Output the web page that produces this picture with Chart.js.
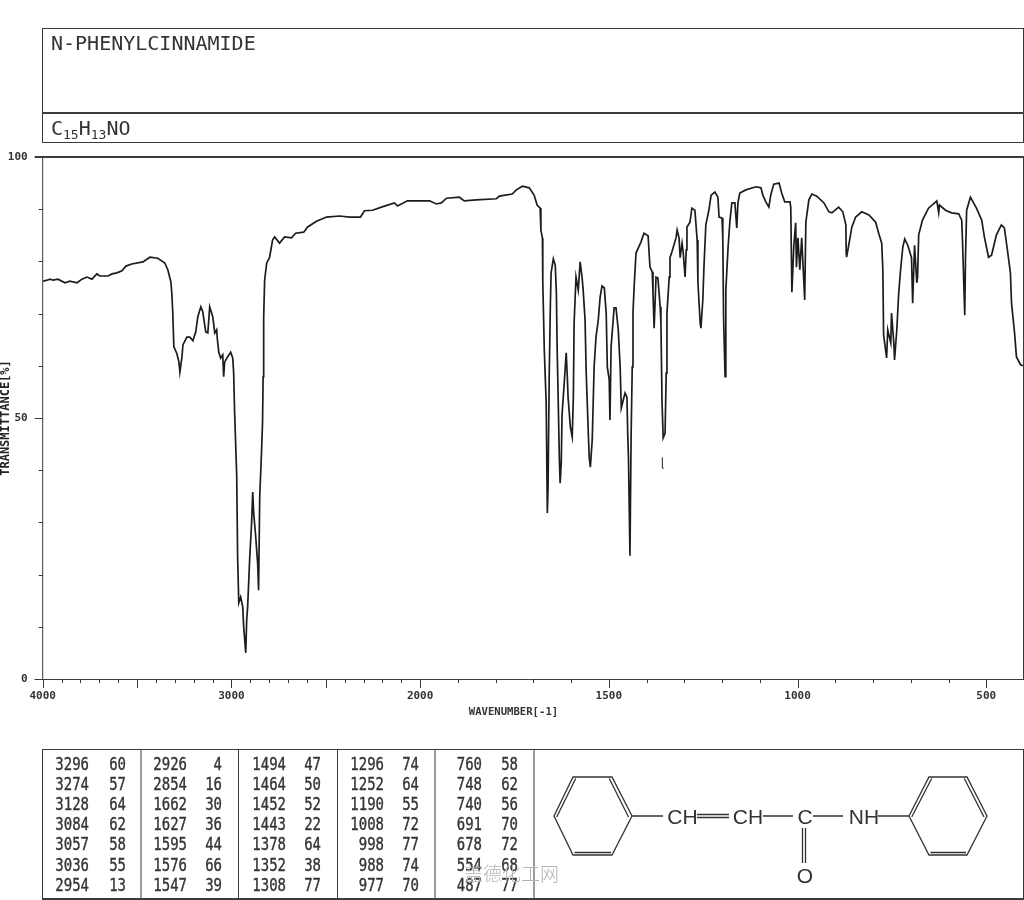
<!DOCTYPE html>
<html>
<head>
<meta charset="utf-8">
<title>N-PHENYLCINNAMIDE</title>
<script src="https://cdn.jsdelivr.net/npm/chart.js@4/dist/chart.umd.min.js"></script>
<style>
  html, body { margin: 0; padding: 0; background: #fff; overflow: hidden; }
  #spectrum, #overlay { position: absolute; left: 0; top: 0; }
  #overlay text { font-family: "DejaVu Sans Mono", monospace; fill: #333; }
  #overlay .cell { stroke: #333; stroke-width: 0.3; }
  #overlay .struct { font-family: "Liberation Sans", sans-serif; font-size: 21px; }
  #overlay .mark { font-family: "Noto Sans CJK SC", sans-serif; font-size: 19px; font-weight: 300; fill: #b4b4b4; }
</style>
</head>
<body>
<canvas id="spectrum" width="1024" height="900"></canvas>
<svg id="overlay" width="1024" height="900" xmlns="http://www.w3.org/2000/svg"></svg>
<script>
const compoundName = 'N-PHENYLCINNAMIDE';
const xAxisTitle = 'WAVENUMBER[-1]';
const yAxisTitle = 'TRANSMITTANCE[%]';
const xTickLabels = [4000, 3000, 2000, 1500, 1000, 500];
const yTickLabels = [100, 50, 0];

const wavenumbers = [
  3998, 3977, 3961, 3945, 3919, 3882, 3856, 3818, 3792, 3766, 3739, 3713, 3697, 3654, 3633, 3607,
  3580, 3559, 3528, 3469, 3432, 3390, 3353, 3337, 3321, 3316, 3311, 3305, 3289, 3278, 3273, 3262,
  3257, 3236, 3220, 3204, 3189, 3178, 3162, 3152, 3136, 3125, 3115, 3099, 3088, 3078, 3075, 3067,
  3057, 3046, 3041, 3036, 3020, 3004, 2993, 2988, 2983, 2972, 2967, 2961, 2951, 2940, 2935, 2924,
  2919, 2914, 2903, 2893, 2887, 2882, 2872, 2861, 2856, 2850, 2840, 2835, 2832, 2829, 2824, 2813,
  2798, 2782, 2771, 2745, 2718, 2681, 2660, 2617, 2596, 2549, 2496, 2427, 2374, 2316, 2295, 2252,
  2205, 2136, 2120, 2067, 1975, 1957, 1944, 1930, 1896, 1883, 1851, 1798, 1790, 1756, 1745, 1729,
  1711, 1698, 1690, 1682, 1680, 1676, 1675, 1671, 1666, 1663, 1661, 1658, 1655, 1653, 1647, 1642,
  1639, 1637, 1634, 1631, 1629, 1626, 1624, 1618, 1613, 1610, 1608, 1602, 1597, 1594, 1592, 1587,
  1581, 1576, 1571, 1568, 1563, 1560, 1555, 1552, 1549, 1544, 1539, 1534, 1528, 1523, 1518, 1512,
  1507, 1504, 1499, 1497, 1494, 1486, 1481, 1475, 1470, 1467, 1462, 1457, 1452, 1450, 1448, 1444,
  1441, 1438, 1436, 1433, 1428, 1415, 1407, 1396, 1391, 1385, 1383, 1380, 1375, 1370, 1364, 1362,
  1359, 1356, 1351, 1348, 1346, 1340, 1338, 1333, 1322, 1319, 1314, 1311, 1306, 1303, 1298, 1295,
  1293, 1285, 1280, 1272, 1266, 1264, 1258, 1256, 1251, 1248, 1243, 1235, 1229, 1219, 1211, 1208,
  1200, 1198, 1196, 1192, 1190, 1184, 1179, 1174, 1166, 1161, 1158, 1153, 1137, 1110, 1097, 1092,
  1084, 1076, 1071, 1063, 1049, 1042, 1034, 1020, 1018, 1015, 1010, 1005, 1003, 999, 994, 989,
  981, 978, 970, 962, 949, 930, 917, 909, 891, 880, 872, 871, 870, 862, 856, 846,
  830, 811, 793, 785, 777, 774, 772, 764, 761, 753, 751, 745, 743, 737, 732, 727,
  721, 716, 708, 698, 695, 690, 684, 682, 679, 669, 653, 631, 626, 624, 608, 592,
  573, 565, 563, 557, 555, 552, 542, 526, 512, 505, 494, 486, 473, 460, 452, 444,
  436, 433, 425, 420, 409, 403
];
const transmittance = [
  76.2, 76.4, 76.6, 76.4, 76.6, 75.9, 76.2, 75.9, 76.6, 77.0, 76.6, 77.6, 77.2, 77.2, 77.6, 77.8,
  78.2, 79.1, 79.5, 79.9, 80.8, 80.6, 79.7, 78.4, 76.1, 74.0, 70.4, 63.7, 62.3, 60.7, 58.8, 61.7,
  64.0, 65.5, 65.5, 64.8, 66.5, 69.4, 71.3, 70.4, 66.5, 66.3, 71.3, 69.4, 66.3, 66.9, 65.3, 62.6,
  61.5, 62.1, 57.9, 60.7, 61.7, 62.6, 61.5, 58.6, 51.0, 39.1, 23.2, 14.6, 15.7, 13.8, 10.0, 5.0,
  11.3, 13.8, 23.2, 29.9, 35.8, 31.8, 27.6, 22.2, 17.0, 34.9, 43.9, 49.2, 57.9, 69.3, 76.4, 79.7,
  80.7, 84.1, 84.7, 83.5, 84.7, 84.5, 85.4, 85.6, 86.6, 87.7, 88.5, 88.7, 88.5, 88.5, 89.7, 89.8,
  90.4, 91.2, 90.6, 91.6, 91.6, 91.0, 91.2, 92.1, 92.3, 91.6, 91.8, 92.0, 92.5, 92.9, 93.7, 94.4,
  94.1, 92.7, 90.8, 90.2, 86.0, 84.5, 76.1, 63.0, 52.9, 31.8, 36.8, 57.9, 71.3, 77.8, 80.5, 79.3,
  74.1, 63.6, 52.9, 42.0, 37.5, 41.6, 50.6, 56.9, 62.5, 57.9, 54.0, 48.3, 46.4, 54.0, 68.2, 77.0,
  74.5, 79.9, 77.0, 74.5, 68.8, 58.8, 48.3, 42.5, 40.6, 45.8, 59.8, 65.5, 68.8, 73.2, 75.3, 74.9,
  70.1, 59.8, 57.3, 49.6, 63.6, 71.1, 71.1, 66.9, 59.8, 51.9, 53.4, 54.8, 54.0, 47.1, 42.5, 23.6,
  46.4, 59.8, 70.1, 75.1, 81.6, 83.7, 85.4, 84.9, 78.9, 78.0, 73.9, 67.2, 77.0, 76.8, 71.3, 68.2,
  52.9, 46.2, 47.1, 58.6, 70.1, 77.0, 80.7, 81.8, 84.5, 86.0, 84.5, 80.7, 83.5, 81.8, 77.0, 82.2,
  86.6, 87.5, 90.2, 89.8, 84.1, 76.1, 68.2, 67.2, 72.6, 78.9, 87.0, 89.8, 92.7, 93.3, 92.3, 88.5,
  88.3, 84.1, 69.3, 57.9, 74.5, 82.8, 87.9, 91.2, 91.2, 86.4, 91.2, 93.1, 93.7, 94.3, 94.1, 92.7,
  91.4, 90.4, 92.7, 94.8, 95.0, 93.1, 91.4, 91.4, 90.4, 74.1, 82.8, 87.4, 78.9, 84.5, 78.4, 84.5,
  72.6, 87.5, 91.8, 92.9, 92.5, 91.2, 89.5, 89.3, 90.4, 89.5, 87.0, 81.6, 80.8, 84.1, 86.6, 88.5,
  89.5, 88.9, 87.5, 85.4, 83.5, 78.4, 65.9, 61.5, 66.9, 64.4, 70.1, 64.4, 61.1, 66.9, 73.9, 78.4,
  82.8, 84.3, 83.1, 80.7, 72.0, 83.1, 75.9, 77.0, 85.1, 87.9, 90.2, 91.6, 89.3, 90.8, 89.8, 89.3,
  89.1, 87.9, 84.1, 69.7, 80.8, 89.8, 92.3, 90.2, 87.9, 84.7, 80.8, 81.2, 85.1, 87.0, 86.4, 82.2,
  77.8, 72.0, 66.3, 61.7, 60.2, 60.0
];

// small stray pen mark under the 1352 band
const strayWavenumbers = [1358, 1358, 1354];
const strayTransmittance = [42.4, 40.4, 40.4];

const peakWavenumbers = [
  [3296, 3274, 3128, 3084, 3057, 3036, 2954],
  [2926, 2854, 1662, 1627, 1595, 1576, 1547],
  [1494, 1464, 1452, 1443, 1378, 1352, 1308],
  [1296, 1252, 1190, 1008, 998, 988, 977],
  [760, 748, 740, 691, 678, 554, 487]
];
const peakValues = [
  [60, 57, 64, 62, 58, 55, 13],
  [4, 16, 30, 36, 44, 66, 39],
  [47, 50, 52, 22, 64, 38, 77],
  [74, 64, 55, 72, 77, 74, 70],
  [58, 62, 56, 70, 72, 68, 77]
];

// x axis is on a double scale: 4000-2000 takes half the width per unit of 2000-400
class IrScale extends Chart.LinearScale {
  static id = 'irScale';
  static defaults = {};
  getPixelForValue(value) {
    const u = value >= 2000 ? (4000 - value) / 2 : 1000 + (2000 - value);
    return this.left + (u / 2600) * this.width;
  }
  getValueForPixel(pixel) {
    const u = ((pixel - this.left) / this.width) * 2600;
    return u <= 1000 ? 4000 - u * 2 : 2000 - (u - 1000);
  }
}
Chart.register(IrScale);

// frame and the long/short tick marks
const axisFrame = {
  id: 'axisFrame',
  afterDraw(chart) {
    const { ctx, chartArea: a, scales: { x, y } } = chart;
    ctx.save();
    ctx.strokeStyle = '#3a3a3a';
    ctx.lineWidth = 1;
    ctx.beginPath();
    ctx.moveTo(a.left, a.top); ctx.lineTo(a.left, a.bottom + 1);
    ctx.moveTo(a.left - 8, a.bottom + 0.5); ctx.lineTo(a.right, a.bottom + 0.5);
    ctx.moveTo(a.right - 0.5, a.top); ctx.lineTo(a.right - 0.5, a.bottom);
    x.ticks.forEach((t, i) => {
      const px = Math.round(x.getPixelForTick(i)) + 0.5;
      ctx.moveTo(px, a.bottom);
      ctx.lineTo(px, a.bottom + (t.value % 500 === 0 ? 9 : 4));
    });
    y.ticks.forEach((t, i) => {
      const py = Math.round(y.getPixelForTick(i)) + 0.5;
      ctx.moveTo(a.left, py);
      ctx.lineTo(a.left - (t.value % 50 === 0 ? 8 : 4), py);
    });
    ctx.stroke();
    ctx.lineWidth = 2;
    ctx.beginPath();
    ctx.moveTo(a.left - 8, a.top);
    ctx.lineTo(a.right, a.top);
    ctx.stroke();
    ctx.restore();
  }
};

const tickFont = { family: '"DejaVu Sans Mono", monospace', size: 11, weight: 'bold' };

new Chart(document.getElementById('spectrum'), {
  type: 'line',
  data: {
    datasets: [
      {
        data: wavenumbers.map((w, i) => ({ x: w, y: transmittance[i] })),
        borderColor: '#1c1c1c',
        borderWidth: 1.7,
        borderJoinStyle: 'miter',
        pointRadius: 0,
        tension: 0
      },
      {
        data: strayWavenumbers.map((w, i) => ({ x: w, y: strayTransmittance[i] })),
        borderColor: '#444',
        borderWidth: 1,
        pointRadius: 0,
        tension: 0
      }
    ]
  },
  options: {
    responsive: false,
    animation: false,
    layout: { padding: { top: 157, right: 0, bottom: 181, left: 0 } },
    plugins: { legend: { display: false }, tooltip: { enabled: false } },
    scales: {
      x: {
        type: 'irScale',
        min: 400,
        max: 4000,
        grid: { display: false, drawTicks: false },
        border: { display: false },
        afterFit: (scale) => { scale.height = 40; },
        afterBuildTicks: (scale) => {
          const ticks = [];
          for (let v = 4000; v >= 500; v -= 100) ticks.push({ value: v });
          scale.ticks = ticks;
        },
        ticks: {
          autoSkip: false,
          maxRotation: 0,
          padding: 11,
          color: '#333',
          font: tickFont,
          callback: (v) => (xTickLabels.includes(v) ? String(v) : '')
        }
      },
      y: {
        min: 0,
        max: 100,
        grid: { display: false, drawTicks: false },
        border: { display: false },
        afterFit: (scale) => { scale.width = 42.7; },
        afterBuildTicks: (scale) => {
          const ticks = [];
          for (let v = 0; v <= 100; v += 10) ticks.push({ value: v });
          scale.ticks = ticks;
        },
        title: {
          display: true,
          text: yAxisTitle,
          color: '#222',
          padding: { top: -1, bottom: 0 },
          font: { family: '"DejaVu Sans Mono", monospace', size: 12, weight: 'bold' }
        },
        ticks: {
          autoSkip: false,
          padding: 15,
          color: '#333',
          font: tickFont,
          callback: (v) => (yTickLabels.includes(v) ? String(v) : '')
        }
      }
    }
  },
  plugins: [axisFrame]
});

// header boxes, peak table and structure drawing
const cellRight = [[89, 126], [187, 222], [286, 321], [384, 419], [482, 518]];
const rowY = [770, 790, 810, 830, 850, 871, 891];
const tableLines = [141, 238.5, 337.5, 435, 534];

let svg = '';
const rule = (x1, y1, x2, y2, w) =>
  `<line x1="${x1}" y1="${y1}" x2="${x2}" y2="${y2}" stroke="#3a3a3a" stroke-width="${w || 1}"/>`;

svg += rule(42, 28.5, 1023, 28.5) + rule(42, 113, 1023, 113, 2) + rule(42, 142.5, 1023, 142.5);
svg += rule(42.5, 28, 42.5, 143) + rule(1023.5, 28, 1023.5, 143);
svg += `<text x="51" y="50" font-size="20">${compoundName}</text>`;
svg += `<text x="51" y="135" font-size="20">C<tspan font-size="13" dy="4">15</tspan><tspan dy="-4">H</tspan><tspan font-size="13" dy="4">13</tspan><tspan dy="-4">NO</tspan></text>`;
svg += `<text x="513.5" y="715" font-size="10.6" font-weight="bold" text-anchor="middle">${xAxisTitle}</text>`;

svg += rule(42, 749.5, 1023, 749.5) + rule(42, 899, 1023, 899, 2);
svg += rule(42.5, 749, 42.5, 900) + rule(1023.5, 749, 1023.5, 900);
tableLines.forEach((x) => { svg += rule(x, 749, x, 900); });
peakWavenumbers.forEach((col, c) => {
  col.forEach((w, r) => {
    svg += `<text class="cell" transform="translate(${cellRight[c][0]},${rowY[r]}) scale(1,1.2)" font-size="14" text-anchor="end">${w}</text>`;
    svg += `<text class="cell" transform="translate(${cellRight[c][1]},${rowY[r]}) scale(1,1.2)" font-size="14" text-anchor="end">${peakValues[c][r]}</text>`;
  });
});

const path = (d) => `<path d="${d}" fill="none" stroke="#333" stroke-width="1.3"/>`;
svg += path('M554 816L573 777H612L632 816L612 855H573Z');
svg += path('M556.7 817L575.7 778.5M609.3 778.5L628.5 817M574.5 852.5H611');
svg += path('M909 816L929 777H967L987 816L967 855H929Z');
svg += path('M911.7 817L931.7 778.5M964.3 778.5L984 817M930.5 852.5H966');
svg += path('M632 816H663M697 814.5H729M697 817.5H729M763 816H793M813 816H843M878 816H909M802.5 828V863M805.5 828V863');
svg += `<text class="struct" x="682.5" y="823.5" text-anchor="middle">CH</text>`;
svg += `<text class="struct" x="748" y="823.5" text-anchor="middle">CH</text>`;
svg += `<text class="struct" x="805" y="823.5" text-anchor="middle">C</text>`;
svg += `<text class="struct" x="864" y="823.5" text-anchor="middle">NH</text>`;
svg += `<text class="struct" x="805" y="883" text-anchor="middle">O</text>`;
svg += `<text class="mark" x="464" y="881">盖德化工网</text>`;

document.getElementById('overlay').innerHTML = svg;
</script>
</body>
</html>
